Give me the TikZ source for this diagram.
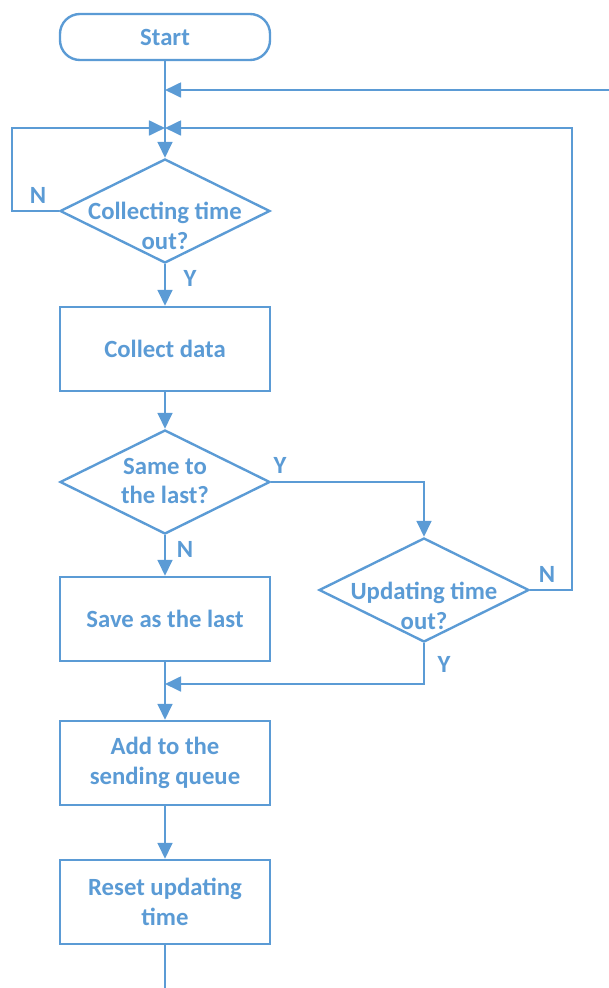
\documentclass[tikz,border=0pt]{standalone}
\usepackage{fontspec}
\setmainfont{Carlito}
\usepackage{xcolor}
\usetikzlibrary{shapes.geometric,arrows.meta}
\definecolor{flowblue}{HTML}{5B9BD5}

\begin{document}
\begin{tikzpicture}[x=0.025cm,y=-0.025cm,
		every node/.style={text=flowblue,font=\fontsize{17.6}{20.8}\selectfont\bfseries},
		line/.style={draw=flowblue,line width=1.7pt},
		arr/.style={line,-{Triangle[length=0.4cm,width=0.37cm]}},
		procbox/.style={draw=flowblue,line width=1.7pt,minimum width=5.25cm,minimum height=2.1cm,align=center,inner sep=0pt},
		decbox/.style={draw=flowblue,line width=1.7pt,diamond,minimum width=5.25cm,minimum height=2.6cm,inner sep=0pt},
		dectext/.style={align=center,inner sep=0pt}]
			\useasboundingbox (0,0) rectangle (609,988);
			\node[procbox,rounded corners=0.5cm,minimum height=1.15cm] (start) at (165,37) {Start};
			\node[decbox] (d1) at (165,211) {};
			\node[dectext] (d1t) at (165,226) {Collecting time\\out?};
			\node[procbox] (collect) at (165,349) {Collect data};
			\node[decbox] (d2) at (165,482) {};
			\node[dectext] (d2t) at (165,481) {Same to\\the last?};
			\node[procbox] (save) at (165,619) {Save as the last};
			\node[decbox] (d3) at (424,590) {};
			\node[dectext] (d3t) at (424,606) {Updating time\\out?};
			\node[procbox] (add) at (165,763) {Add to the\\sending queue};
			\node[procbox] (reset) at (165,902) {Reset updating\\time};
			\coordinate (topin) at (609,90);
			\coordinate (join1) at (165,128);
			\coordinate (join2) at (165,684);
			\coordinate (loopr) at (572,128);
			\coordinate (bottomout) at (165,988);
			\draw[arr] (start) -- (d1);
			\draw[arr] (topin) -- (start.south |- topin);
			\draw[arr] (d1.west) -- ++(-47,0) |- (join1);
			\draw[arr] (d3.east) -| (loopr) -- (join1);
			\draw[arr] (d1) -- (collect);
			\draw[arr] (collect) -- (d2);
			\draw[arr] (d2.east) -| (d3.north);
			\draw[arr] (d2) -- (save);
			\draw[arr] (d3.south) |- (join2);
			\draw[arr] (save) -- (add);
			\draw[arr] (add) -- (reset);
			\draw[line] (reset) -- (bottomout);
			\node (n1) at (38,195) {N};
			\node (y1) at (190,278) {Y};
			\node (y2) at (280,465) {Y};
			\node (n2) at (185,549) {N};
			\node (n3) at (547,574) {N};
			\node (y3) at (444,664) {Y};
		\end{tikzpicture}
\end{document}
